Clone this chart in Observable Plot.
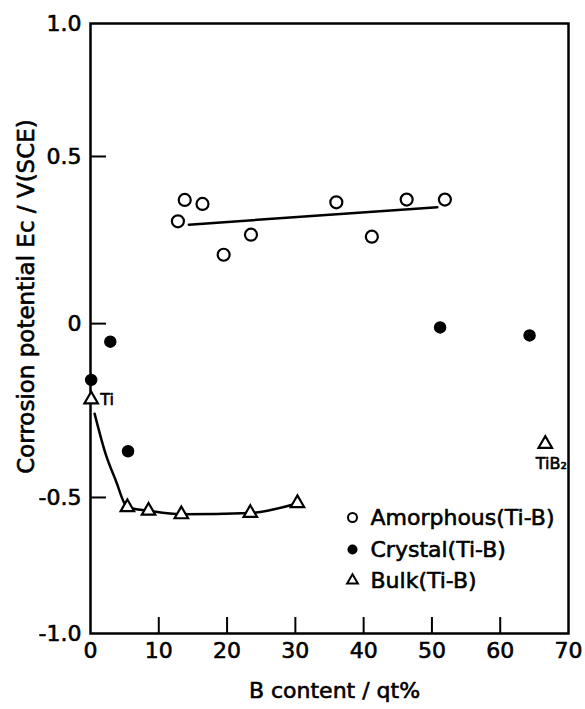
<!DOCTYPE html>
<html>
<head>
<meta charset="utf-8">
<script src="https://cdn.jsdelivr.net/npm/d3@7"></script>
<script src="https://cdn.jsdelivr.net/npm/@observablehq/plot@0.6"></script>
<style>
  body { margin: 0; background: #fff; }
  #chart svg { display: block; }
</style>
</head>
<body>
<div id="chart"></div>
<script>
// ---- data ----
const amorphousX = [12.8, 13.8, 16.4, 19.5, 23.5, 36.0, 41.2, 46.3, 51.9];
const amorphousY = [0.306, 0.370, 0.358, 0.206, 0.266, 0.363, 0.260, 0.371, 0.371];
const amorphousFitX = [14.4, 50.8];
const amorphousFitY = [0.296, 0.348];

const crystalX = [0.1, 2.9, 5.5, 51.2, 64.3];
const crystalY = [-0.162, -0.052, -0.367, -0.011, -0.034];

const bulkX = [0.1, 5.4, 8.5, 13.3, 23.4, 30.3, 66.6];
const bulkY = [-0.218, -0.536, -0.549, -0.562, -0.557, -0.521, -0.346];
const bulkFitX = [0.6, 2.2, 3.7, 5.4, 8.5, 13.3, 23.4, 30.3];
const bulkFitY = [-0.259, -0.374, -0.451, -0.536, -0.549, -0.562, -0.557, -0.521];

const xTicks = [0, 10, 20, 30, 40, 50, 60, 70];
const yTicks = [-1, -0.5, 0, 0.5, 1];
const yTickLabels = ["-1.0", "-0.5", "0", "0.5", "1.0"];
const seriesNames = ["Amorphous(Ti-B)", "Crystal(Ti-B)", "Bulk(Ti-B)"];
const pointLabels = ["Ti", "TiB₂"];
const xTitle = "B content / qt%";
const yTitle = "Corrosion potential Ec / V(SCE)";

// ---- tables ----
const zip = (xs, ys) => xs.map((x, i) => ({x, y: ys[i]}));
const amorphous = zip(amorphousX, amorphousY);
const amorphousFit = zip(amorphousFitX, amorphousFitY);
const crystal = zip(crystalX, crystalY);
const bulk = zip(bulkX, bulkY);
const bulkFit = zip(bulkFitX, bulkFitY);
const labelRows = [
  {x: bulkX[0], y: bulkY[0], t: pointLabels[0]},
  {x: bulkX[bulkX.length - 1], y: bulkY[bulkY.length - 1], t: pointLabels[1]}
];

const font = "DejaVu Sans";
const W = 585, H = 709;
const mT = 23, mB = 76, mL = 90, mR = 17;
const heavy = {stroke: "black", strokeWidth: 0.6};

// The printed axis is not evenly spaced: reproduce its tick spacing piecewise.
const yWarp = d3.scaleLinear().domain(yTicks).range([-1, -0.554, 0.016, 0.564, 1]);

const chart = Plot.plot({
  width: W,
  height: H,
  marginTop: mT,
  marginBottom: mB,
  marginLeft: mL,
  marginRight: mR,
  style: {fontFamily: font, background: "white", color: "black"},
  x: {domain: [0, 70], label: null},
  y: {domain: [-1, 1], transform: yWarp, label: null},
  marks: [
    Plot.frame({stroke: "black", strokeWidth: 2.5}),
    // inward tick marks
    Plot.axisX(xTicks.slice(1, -1), {tickSize: -16, strokeWidth: 2, tickFormat: () => "", label: null}),
    Plot.axisY(yTicks.slice(1, -1), {tickSize: -16, strokeWidth: 2, tickFormat: () => "", label: null}),
    // tick labels
    Plot.axisX(xTicks, {tickSize: 0, tickPadding: 9, fontSize: 22, label: null, textStroke: "black", textStrokeWidth: 0.6,
      tickFormat: d => String(d)}),
    Plot.axisY(yTicks, {tickSize: 0, tickPadding: 9, fontSize: 22, label: null, textStroke: "black", textStrokeWidth: 0.6,
      tickFormat: d => yTickLabels[yTicks.findIndex(t => Math.abs(t - d) < 1e-9)]}),
    // axis titles
    Plot.text([xTitle], {frameAnchor: "bottom", dy: 57, dx: 5, text: d => d, textAnchor: "middle", lineAnchor: "middle", fontSize: 22, fill: "black", ...heavy}),
    Plot.text([yTitle], {frameAnchor: "left", rotate: -90, dx: -64, dy: -32, text: d => d, textAnchor: "middle", lineAnchor: "middle", fontSize: 23, fill: "black", ...heavy}),
    // fitted curves
    Plot.line(amorphousFit, {x: "x", y: "y", stroke: "black", strokeWidth: 2.5}),
    Plot.line(bulkFit, {x: "x", y: "y", stroke: "black", strokeWidth: 2.5, curve: "monotone-x"}),
    // data points
    Plot.dot(amorphous, {x: "x", y: "y", r: 6, stroke: "black", strokeWidth: 2.2, fill: "white"}),
    Plot.dot(crystal, {x: "x", y: "y", r: 5.5, fill: "black", stroke: "black"}),
    Plot.dot(bulk, {x: "x", y: "y", symbol: "triangle", r: 5, stroke: "black", strokeWidth: 2.2, fill: "white"}),
    // point annotations
    Plot.text(labelRows.slice(0, 1), {x: "x", y: "y", text: "t", dx: 9, textAnchor: "start", lineAnchor: "middle", fontSize: 16, fill: "black", ...heavy}),
    Plot.text(labelRows.slice(1), {x: "x", y: "y", text: "t", dx: 6, dy: 20, textAnchor: "middle", lineAnchor: "middle", fontSize: 16, fill: "black", ...heavy}),
    // legend
    Plot.dot([seriesNames[0]], {frameAnchor: "bottom-right", dx: -216, dy: -116, r: 4.5, stroke: "black", strokeWidth: 2, fill: "white"}),
    Plot.dot([seriesNames[1]], {frameAnchor: "bottom-right", dx: -216, dy: -84, r: 5, fill: "black"}),
    Plot.dot([seriesNames[2]], {frameAnchor: "bottom-right", dx: -216, dy: -53, symbol: "triangle", r: 4, stroke: "black", strokeWidth: 2, fill: "white"}),
    Plot.text([seriesNames[0]], {frameAnchor: "bottom-right", dx: -198, dy: -116, text: d => d, textAnchor: "start", lineAnchor: "middle", fontSize: 22, fill: "black", ...heavy}),
    Plot.text([seriesNames[1]], {frameAnchor: "bottom-right", dx: -198, dy: -84, text: d => d, textAnchor: "start", lineAnchor: "middle", fontSize: 22, fill: "black", ...heavy}),
    Plot.text([seriesNames[2]], {frameAnchor: "bottom-right", dx: -198, dy: -53, text: d => d, textAnchor: "start", lineAnchor: "middle", fontSize: 22, fill: "black", ...heavy})
  ]
});
document.getElementById("chart").appendChild(chart);
</script>
</body>
</html>
